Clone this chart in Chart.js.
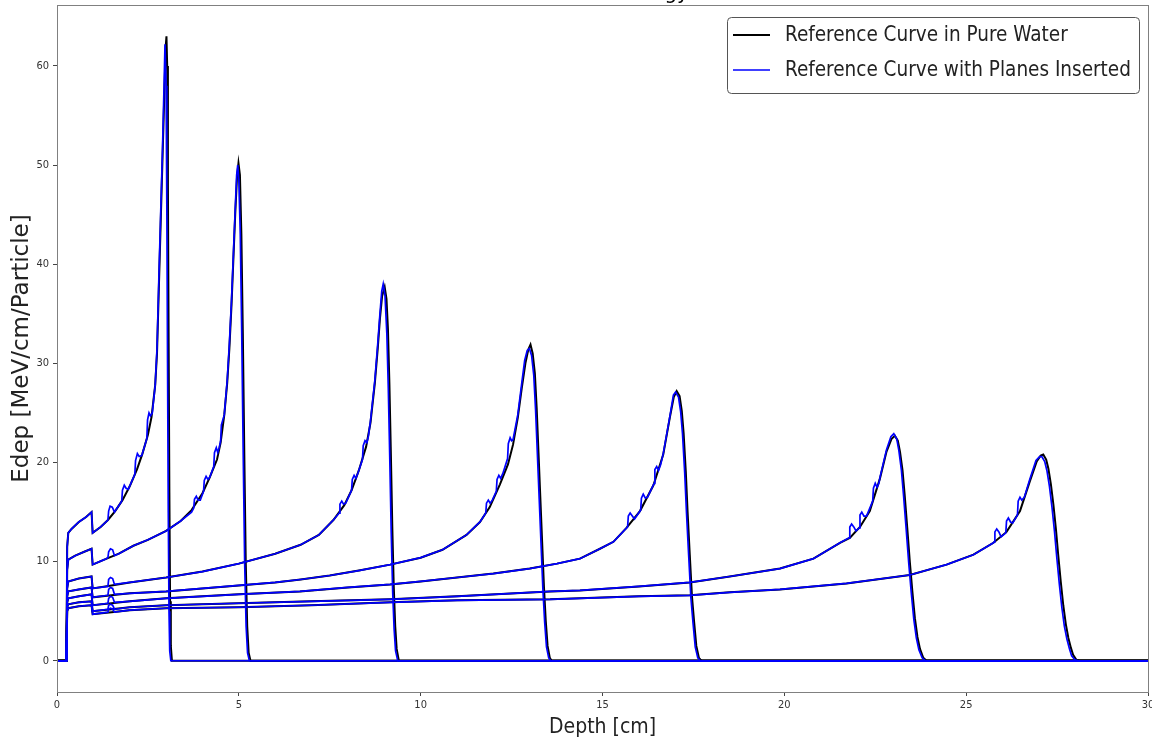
<!DOCTYPE html>
<html>
<head>
<meta charset="utf-8">
<script src="https://cdn.jsdelivr.net/npm/chart.js@4.4.1/dist/chart.umd.min.js"></script>
<style>
  html, body { margin: 0; padding: 0; background: #ffffff; }
  #wrap { width: 1152px; height: 745px; position: relative; overflow: hidden; }
</style>
</head>
<body>
<div id="wrap"><canvas id="braggChart" width="1152" height="745"></canvas></div>
<script>
// Edep [MeV/cm/Particle] vs depth [cm]
const titleText = "Curves vs Energy";
const legendLabels = ["Reference Curve in Pure Water", "Reference Curve with Planes Inserted"];
const xTicks = [0, 5, 10, 15, 20, 25, 30];
const yTicks = [0, 10, 20, 30, 40, 50, 60];

// pure water curves, [depth, edep]
const water3 = [[0,0],[0.26,0],[0.28,11.5],[0.31,12.9],[0.4,13.3],[0.6,14.0],[0.8,14.5],[0.95,15.0],[0.98,12.9],[1.2,13.5],[1.4,14.2],[1.6,15.1],[1.8,16.2],[2.0,17.6],[2.2,19.3],[2.35,20.9],[2.5,22.8],[2.6,24.6],[2.7,27.8],[2.75,31],[2.8,37.5],[2.85,44],[2.9,50.5],[2.95,57],[2.99,62],[3.01,63],[3.03,60],[3.05,48],[3.07,32],[3.09,17],[3.11,6],[3.13,1.5],[3.16,0],[30,0]];
const water5 = [[0,0],[0.26,0],[0.28,9.2],[0.31,10.2],[0.5,10.6],[0.75,11.0],[0.95,11.3],[0.98,9.7],[1.3,10.2],[1.7,10.8],[2.1,11.6],[2.5,12.2],[3.0,13.1],[3.4,14.1],[3.7,15.2],[4.0,16.9],[4.2,18.5],[4.4,20.3],[4.5,22.0],[4.6,24.8],[4.68,28],[4.74,31.5],[4.8,36],[4.85,40.5],[4.9,45],[4.95,48.8],[4.99,50.2],[5.03,49],[5.07,43],[5.11,33],[5.15,21],[5.19,10],[5.23,3.5],[5.27,0.8],[5.32,0],[30,0]];
const water9 = [[0,0],[0.26,0],[0.28,7.3],[0.31,8.0],[0.6,8.3],[0.95,8.5],[0.98,7.3],[1.5,7.6],[2,7.9],[3,8.4],[4,9.0],[5,9.8],[6,10.8],[6.7,11.7],[7.2,12.7],[7.6,14.2],[7.9,15.7],[8.1,17.2],[8.3,19.2],[8.5,21.6],[8.62,24],[8.74,28],[8.82,31.5],[8.88,34.5],[8.94,36.8],[9.01,37.7],[9.06,36.5],[9.1,33.5],[9.14,28],[9.18,21],[9.22,13.5],[9.26,7.5],[9.3,3.5],[9.34,1.2],[9.4,0],[30,0]];
const water13 = [[0,0],[0.26,0],[0.28,6.5],[0.31,7.0],[0.6,7.2],[0.95,7.4],[0.98,6.4],[1.5,6.6],[2,6.8],[3,7.0],[4,7.3],[5,7.6],[6,7.9],[6.7,8.2],[7.5,8.6],[8.3,9.1],[9.16,9.7],[10,10.4],[10.6,11.2],[11.26,12.7],[11.63,14.0],[11.9,15.5],[12.18,17.8],[12.4,19.8],[12.54,21.8],[12.67,24.5],[12.78,27.5],[12.88,30],[12.96,31.4],[13.02,31.9],[13.08,31],[13.14,29],[13.19,25.5],[13.24,21],[13.29,16.5],[13.34,12],[13.39,7.5],[13.44,4],[13.49,1.5],[13.55,0.3],[13.6,0],[30,0]];
const water17 = [[0,0],[0.26,0],[0.28,5.9],[0.31,6.3],[0.6,6.5],[0.95,6.7],[0.98,5.6],[1.5,5.8],[2,6.0],[3,6.3],[4,6.5],[5,6.7],[6.68,7.0],[8,7.4],[9.16,7.7],[10,8.0],[11,8.4],[12,8.8],[13,9.3],[13.75,9.8],[14.38,10.3],[14.93,11.3],[15.3,12.0],[15.66,13.4],[16.03,15.1],[16.4,17.7],[16.67,20.8],[16.85,24.5],[16.96,26.6],[17.04,27.2],[17.12,26.7],[17.18,25.2],[17.23,23],[17.29,19.1],[17.34,15],[17.4,10.7],[17.46,6.5],[17.52,3.9],[17.58,1.5],[17.65,0.3],[17.72,0],[30,0]];
const water23 = [[0,0],[0.26,0],[0.28,5.4],[0.31,5.7],[0.6,5.9],[0.95,6.0],[0.98,5.0],[1.5,5.2],[2,5.4],[3,5.6],[5,5.8],[7,6.0],[9.16,6.2],[11,6.5],[13.56,7.0],[14.38,7.1],[16,7.5],[17.4,7.9],[18.5,8.5],[19.88,9.3],[20.8,10.3],[21.53,11.9],[21.8,12.4],[22.08,13.5],[22.35,15.1],[22.63,18.4],[22.81,21.1],[22.95,22.4],[23.04,22.7],[23.12,22.2],[23.18,21.1],[23.25,19.2],[23.31,16.7],[23.38,13.4],[23.45,10.0],[23.52,7.0],[23.59,4.3],[23.66,2.4],[23.73,1.2],[23.82,0.3],[23.91,0],[30,0]];
const water27 = [[0,0],[0.26,0],[0.28,5.0],[0.31,5.3],[0.6,5.5],[0.95,5.6],[0.98,4.7],[1.5,4.9],[2,5.1],[3,5.3],[5,5.4],[7,5.6],[9.16,5.9],[11,6.1],[13.56,6.2],[14.38,6.3],[16,6.5],[17.4,6.6],[18.5,6.9],[19.88,7.2],[21.71,7.8],[23.45,8.65],[24.46,9.7],[25.2,10.7],[25.75,11.9],[26.11,13.0],[26.48,15.1],[26.75,18.1],[26.94,20.1],[27.05,20.7],[27.12,20.8],[27.2,20.3],[27.26,19.4],[27.33,17.8],[27.4,15.7],[27.47,13.2],[27.53,10.7],[27.6,8.0],[27.67,5.6],[27.74,3.7],[27.81,2.3],[27.88,1.3],[27.94,0.6],[28.03,0.1],[28.12,0],[30,0]];

// same energies with the planes in the beam (small humps at each plane)
const planes3 = [[0,0],[0.26,0],[0.28,11.5],[0.31,12.9],[0.4,13.3],[0.6,14.0],[0.8,14.5],[0.95,15.0],[0.98,12.9],[1.2,13.5],[1.4,14.2],[1.42,15.1],[1.46,15.6],[1.52,15.5],[1.58,15.0],[1.78,16.1],[1.8,17.2],[1.85,17.7],[1.9,17.4],[1.96,17.3],[2.14,18.8],[2.16,20.2],[2.21,20.9],[2.26,20.6],[2.33,20.7],[2.47,22.4],[2.49,24.3],[2.53,25.0],[2.57,24.7],[2.62,25.0],[2.7,27.8],[2.75,31.5],[2.8,38.5],[2.85,45],[2.9,51.5],[2.94,57.5],[2.97,62.2],[3.0,58],[3.02,46],[3.04,30],[3.06,15],[3.08,5],[3.1,1],[3.13,0],[30,0]];
const planes5 = [[0,0],[0.26,0],[0.28,9.2],[0.31,10.2],[0.5,10.6],[0.75,11.0],[0.95,11.3],[0.98,9.7],[1.3,10.2],[1.4,10.4],[1.42,11.0],[1.47,11.3],[1.53,11.2],[1.58,10.6],[1.7,10.8],[2.1,11.6],[2.5,12.2],[3.0,13.1],[3.4,14.1],[3.7,15.0],[3.76,15.4],[3.78,16.3],[3.83,16.6],[3.88,16.2],[3.94,16.2],[4.03,17.1],[4.05,18.2],[4.1,18.6],[4.15,18.3],[4.2,18.5],[4.31,19.6],[4.33,21.0],[4.38,21.5],[4.42,21.0],[4.46,21.5],[4.5,22.2],[4.52,23.8],[4.56,24.3],[4.6,24.8],[4.68,28.3],[4.74,32],[4.8,36.5],[4.85,41],[4.9,45.5],[4.94,49],[4.97,50],[5.0,48.5],[5.04,43],[5.08,33],[5.12,21],[5.16,10],[5.2,3.5],[5.24,0.8],[5.29,0],[30,0]];
const planes9 = [[0,0],[0.26,0],[0.28,7.3],[0.31,8.0],[0.6,8.3],[0.95,8.5],[0.98,7.3],[1.4,7.5],[1.42,8.2],[1.47,8.4],[1.53,8.3],[1.58,7.7],[2,7.9],[3,8.4],[4,9.0],[5,9.8],[6,10.8],[6.7,11.7],[7.2,12.7],[7.6,14.2],[7.76,14.9],[7.78,15.8],[7.83,16.1],[7.88,15.8],[7.94,15.9],[8.1,17.2],[8.12,18.3],[8.17,18.7],[8.22,18.4],[8.28,19.0],[8.4,20.3],[8.42,21.7],[8.47,22.2],[8.52,22.0],[8.56,22.6],[8.62,24.2],[8.74,28.3],[8.82,32],[8.88,35],[8.93,37.3],[8.97,38.0],[9.02,36.8],[9.07,33],[9.11,27.5],[9.15,20.5],[9.19,13],[9.23,7],[9.27,3.2],[9.31,1],[9.37,0],[30,0]];
const planes13 = [[0,0],[0.26,0],[0.28,6.5],[0.31,7.0],[0.6,7.2],[0.95,7.4],[0.98,6.4],[1.4,6.6],[1.42,7.2],[1.47,7.4],[1.53,7.3],[1.58,6.7],[2,6.8],[3,7.0],[4,7.3],[5,7.6],[6,7.9],[6.7,8.2],[7.5,8.6],[8.3,9.1],[9.16,9.7],[10,10.4],[10.6,11.2],[11.26,12.7],[11.63,14.0],[11.79,14.9],[11.81,15.9],[11.86,16.2],[11.91,15.9],[11.97,16.2],[12.08,17.1],[12.1,18.3],[12.15,18.7],[12.2,18.4],[12.26,18.9],[12.39,20.4],[12.41,21.9],[12.46,22.5],[12.5,22.2],[12.54,22.3],[12.67,24.8],[12.78,28],[12.86,30.3],[12.93,31.3],[12.99,31.5],[13.05,30.8],[13.11,28.8],[13.16,25.3],[13.21,20.8],[13.26,16.3],[13.31,11.8],[13.36,7.3],[13.41,3.9],[13.46,1.4],[13.52,0.3],[13.57,0],[30,0]];
const planes17 = [[0,0],[0.26,0],[0.28,5.9],[0.31,6.3],[0.6,6.5],[0.95,6.7],[0.98,5.6],[1.4,5.8],[1.42,6.3],[1.47,6.5],[1.53,6.4],[1.58,5.9],[2,6.0],[3,6.3],[4,6.5],[5,6.7],[6.68,7.0],[8,7.4],[9.16,7.7],[10,8.0],[11,8.4],[12,8.8],[13,9.3],[13.75,9.8],[14.38,10.3],[14.93,11.3],[15.3,12.0],[15.69,13.5],[15.71,14.6],[15.76,14.9],[15.82,14.6],[15.88,14.3],[16.05,15.2],[16.07,16.4],[16.12,16.8],[16.18,16.4],[16.24,16.5],[16.42,17.9],[16.44,19.3],[16.49,19.6],[16.54,19.2],[16.6,19.8],[16.67,20.9],[16.85,24.6],[16.95,26.8],[17.01,27.1],[17.09,26.6],[17.15,25.1],[17.2,22.9],[17.26,19.0],[17.31,14.9],[17.37,10.6],[17.43,6.4],[17.49,3.8],[17.55,1.4],[17.62,0.3],[17.69,0],[30,0]];
const planes23 = [[0,0],[0.26,0],[0.28,5.4],[0.31,5.7],[0.6,5.9],[0.95,6.0],[0.98,5.0],[1.4,5.2],[1.42,5.6],[1.47,5.7],[1.53,5.6],[1.58,5.2],[2,5.4],[3,5.6],[5,5.8],[7,6.0],[9.16,6.2],[11,6.5],[13.56,7.0],[14.38,7.1],[16,7.5],[17.4,7.9],[18.5,8.5],[19.88,9.3],[20.8,10.3],[21.53,11.9],[21.78,12.4],[21.8,13.5],[21.85,13.8],[21.91,13.5],[21.97,13.1],[22.06,13.4],[22.08,14.7],[22.13,15.0],[22.19,14.6],[22.26,14.6],[22.43,16.1],[22.45,17.4],[22.5,17.9],[22.55,17.5],[22.6,17.9],[22.63,18.5],[22.81,21.3],[22.93,22.6],[23.01,22.9],[23.09,22.4],[23.15,21.2],[23.22,19.2],[23.28,16.6],[23.35,13.3],[23.42,9.9],[23.49,6.9],[23.56,4.2],[23.63,2.3],[23.7,1.1],[23.79,0.3],[23.88,0],[30,0]];
const planes27 = [[0,0],[0.26,0],[0.28,5.0],[0.31,5.3],[0.6,5.5],[0.95,5.6],[0.98,4.7],[1.4,4.9],[1.42,5.2],[1.47,5.3],[1.53,5.2],[1.58,4.9],[2,5.1],[3,5.3],[5,5.4],[7,5.6],[9.16,5.9],[11,6.1],[13.56,6.2],[14.38,6.3],[16,6.5],[17.4,6.6],[18.5,6.9],[19.88,7.2],[21.71,7.8],[23.45,8.65],[24.46,9.7],[25.2,10.7],[25.75,11.9],[25.77,12.0],[25.79,13.0],[25.84,13.3],[25.9,13.0],[25.96,12.5],[26.09,12.9],[26.11,14.1],[26.16,14.4],[26.22,14.0],[26.28,13.9],[26.41,14.7],[26.43,16.1],[26.48,16.5],[26.53,16.2],[26.6,16.5],[26.75,18.3],[26.92,20.2],[27.02,20.6],[27.08,20.6],[27.16,20.1],[27.22,19.2],[27.29,17.6],[27.36,15.5],[27.43,13.0],[27.49,10.5],[27.56,7.8],[27.63,5.4],[27.7,3.5],[27.77,2.2],[27.84,1.2],[27.9,0.5],[27.99,0.1],[28.08,0],[30,0]];

const waterCurves = [water3, water5, water9, water13, water17, water23, water27];
const planeCurves = [planes3, planes5, planes9, planes13, planes17, planes23, planes27];

const condensed = '"DejaVu Sans Condensed", "DejaVu Sans", sans-serif';
const plain = '"DejaVu Sans", sans-serif';

function toPoints(curve) {
  return curve.map(p => ({ x: p[0], y: p[1] }));
}

let datasets = [];
// blue first so it is drawn on top of the black curves
planeCurves.forEach((c, i) => {
  datasets.push({ label: legendLabels[1] + " " + i, data: toPoints(c), borderColor: "#0000ff", borderWidth: 1.7, pointRadius: 0, tension: 0, fill: false });
});
waterCurves.forEach((c, i) => {
  datasets.push({ label: legendLabels[0] + " " + i, data: toPoints(c), borderColor: "#000000", borderWidth: 2, pointRadius: 0, tension: 0, fill: false });
});

const framePlugin = {
  id: "framePlugin",
  afterDraw(chart) {
    const { ctx, chartArea: a } = chart;
    ctx.save();

    // axes box all round
    ctx.strokeStyle = "#808080";
    ctx.lineWidth = 1;
    ctx.strokeRect(Math.round(a.left) + 0.5, Math.round(a.top) + 0.5, Math.round(a.right - a.left), Math.round(a.bottom - a.top));

    // title, mostly above the picture edge
    ctx.fillStyle = "#000";
    ctx.font = "22px " + condensed;
    ctx.textAlign = "center";
    ctx.textBaseline = "alphabetic";
    ctx.fillText(titleText, (a.left + a.right) / 2, a.top - 6);

    // legend box in the top right corner
    const bx = 727, by = 17, bw = 412, bh = 76;
    ctx.beginPath();
    ctx.roundRect(bx + 0.5, by + 0.5, bw, bh, 4);
    ctx.fillStyle = "rgba(255,255,255,0.9)";
    ctx.fill();
    ctx.strokeStyle = "#555";
    ctx.lineWidth = 1;
    ctx.stroke();

    const rows = [{ color: "#000000", width: 2, y: 35 }, { color: "#0000ff", width: 1.5, y: 70 }];
    ctx.font = "20.5px " + condensed;
    ctx.textAlign = "left";
    ctx.textBaseline = "middle";
    rows.forEach((r, i) => {
      ctx.beginPath();
      ctx.moveTo(733, r.y);
      ctx.lineTo(770, r.y);
      ctx.strokeStyle = r.color;
      ctx.lineWidth = r.width;
      ctx.stroke();
      ctx.fillStyle = "#222";
      ctx.fillText(legendLabels[i], 785, r.y + 1);
    });
    ctx.restore();
  }
};

new Chart(document.getElementById("braggChart"), {
  type: "line",
  data: { datasets: datasets },
  options: {
    responsive: false,
    animation: false,
    devicePixelRatio: 1,
    layout: { padding: { top: 5, right: 4, left: 0, bottom: 0 } },
    plugins: { legend: { display: false }, tooltip: { enabled: false } },
    scales: {
      x: {
        type: "linear",
        min: 0,
        max: 30,
        afterBuildTicks: (s) => { s.ticks = xTicks.map(v => ({ value: v })); },
        afterFit: (s) => { s.height = 53; s.paddingLeft = 0; s.paddingRight = 0; },
        grid: { drawOnChartArea: false, drawTicks: true, tickLength: 4, color: "#444" },
        border: { display: false },
        ticks: { font: { family: condensed, size: 11 }, color: "#333", padding: 3, maxRotation: 0 },
        title: { display: true, text: "Depth [cm]", font: { family: condensed, size: 21 }, color: "#222", padding: { top: 0, bottom: 5 } }
      },
      y: {
        type: "linear",
        min: -3.15,
        max: 66.15,
        afterBuildTicks: (s) => { s.ticks = yTicks.map(v => ({ value: v })); },
        afterFit: (s) => { s.width = 57; s.paddingTop = 0; s.paddingBottom = 0; },
        grid: { drawOnChartArea: false, drawTicks: true, tickLength: 4, color: "#444" },
        border: { display: false },
        ticks: { font: { family: condensed, size: 11 }, color: "#333", padding: 4 },
        title: { display: true, text: "Edep [MeV/cm/Particle]", font: { family: plain, size: 23 }, color: "#222", padding: { top: 8, bottom: 0 } }
      }
    }
  },
  plugins: [framePlugin]
});
</script>
</body>
</html>
